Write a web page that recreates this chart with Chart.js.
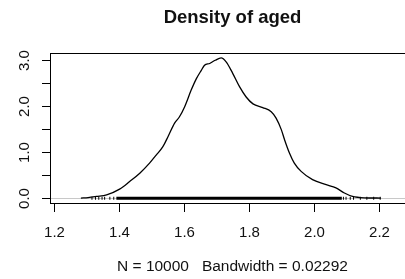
<!DOCTYPE html>
<html>
<head>
<meta charset="utf-8">
<script src="https://cdn.jsdelivr.net/npm/chart.js@4.4.1/dist/chart.umd.min.js"></script>
<style>
  html, body { margin: 0; padding: 0; background: #fff; overflow: hidden; }
  canvas { display: block; }
</style>
</head>
<body>
<canvas id="chart" width="420" height="279"></canvas>
<script>
// Kurve der Dichte
const densityX = [1.283, 1.305, 1.331, 1.362, 1.402, 1.433, 1.464, 1.494, 1.515, 1.535, 1.551,
  1.571, 1.586, 1.602, 1.622, 1.638, 1.653, 1.663, 1.679, 1.696, 1.714, 1.730, 1.750, 1.771,
  1.791, 1.812, 1.842, 1.868, 1.883, 1.899, 1.909, 1.924, 1.939, 1.960, 1.995, 2.037, 2.067,
  2.093, 2.118, 2.154, 2.205];
const densityY = [0.0, 0.01, 0.035, 0.07, 0.195, 0.36, 0.54, 0.76, 0.94, 1.12, 1.34,
  1.63, 1.77, 1.99, 2.35, 2.60, 2.78, 2.89, 2.93, 3.00, 3.05, 2.96, 2.71, 2.42,
  2.20, 2.05, 1.97, 1.88, 1.74, 1.49, 1.27, 0.98, 0.76, 0.58, 0.40, 0.29, 0.22,
  0.11, 0.035, 0.005, 0.0];

// Rug: dichter Bereich + einzelne Striche
const rugBand = [1.392, 2.085];
const rugTicks = [1.317, 1.328, 1.338, 1.348, 1.356, 1.372, 1.384,
  2.090, 2.098, 2.111, 2.121, 2.142, 2.162, 2.183, 2.203];

const xTicks = [1.2, 1.4, 1.6, 1.8, 2.0, 2.2];
const yTicks = [0, 0.5, 1, 1.5, 2, 2.5, 3];
const yLabels = ['0.0', '', '1.0', '', '2.0', '', '3.0'];

const titleText = 'Density of aged';
const subText = 'N = 10000   Bandwidth = 0.02292';

const FONT = "'Liberation Sans', Arial, sans-serif";
const TXT = '#111';

// Achsen, Rahmen und Texte im Stil von R
const rAxes = {
  id: 'rAxes',
  beforeDatasetsDraw(chart) {
    const { ctx, chartArea: { left, right }, scales: { y } } = chart;
    const y0 = Math.round(y.getPixelForValue(0)) + 0.5;
    ctx.save();
    ctx.strokeStyle = '#c8c8c8';
    ctx.lineWidth = 1;
    ctx.beginPath();
    ctx.moveTo(left, y0);
    ctx.lineTo(right, y0);
    ctx.stroke();
    ctx.restore();
  },
  afterDraw(chart) {
    const { ctx, chartArea: { top, bottom, left, right }, scales: { x, y } } = chart;
    ctx.save();
    ctx.strokeStyle = '#000';
    ctx.lineWidth = 1;
    ctx.strokeRect(left + 0.5, top + 0.5, right - left, bottom - top);

    // x-Achse
    ctx.fillStyle = TXT;
    ctx.font = `15px ${FONT}`;
    ctx.textAlign = 'center';
    ctx.textBaseline = 'middle';
    xTicks.forEach((v) => {
      const px = Math.round(x.getPixelForValue(v)) + 0.5;
      ctx.beginPath();
      ctx.moveTo(px, bottom);
      ctx.lineTo(px, bottom + 9);
      ctx.stroke();
      ctx.fillText(v.toFixed(1), px, 233);
    });

    // y-Achse (Beschriftung gedreht)
    yTicks.forEach((v, i) => {
      const py = Math.round(y.getPixelForValue(v)) + 0.5;
      ctx.beginPath();
      ctx.moveTo(left - 8, py);
      ctx.lineTo(left, py);
      ctx.stroke();
      if (yLabels[i]) {
        ctx.save();
        ctx.translate(25, py);
        ctx.rotate(-Math.PI / 2);
        ctx.fillText(yLabels[i], 0, 0);
        ctx.restore();
      }
    });

    ctx.font = `15.5px ${FONT}`;
    ctx.fillText(subText, (left + right) / 2, 267);
    ctx.font = `bold 18.5px ${FONT}`;
    ctx.fillText(titleText, (left + right) / 2, 18);
    ctx.restore();
  },
};

new Chart(document.getElementById('chart'), {
  type: 'line',
  data: {
    datasets: [
      {
        data: densityX.map((v, i) => ({ x: v, y: densityY[i] })),
        borderColor: '#000',
        borderWidth: 1.3,
        pointRadius: 0,
        cubicInterpolationMode: 'monotone',
        fill: false,
      },
      {
        data: rugBand.map((v) => ({ x: v, y: -0.005 })),
        borderColor: '#000',
        borderWidth: 3,
        pointRadius: 0,
      },
      {
        data: rugTicks.map((v) => ({ x: v, y: -0.005 })),
        showLine: false,
        pointStyle: 'line',
        rotation: 90,
        pointRadius: 1.5,
        borderColor: '#000',
        borderWidth: 1,
      },
    ],
  },
  options: {
    responsive: false,
    animation: false,
    layout: {
      padding: { left: 50, right: 4, top: 53, bottom: 76 },
    },
    scales: {
      x: { type: 'linear', min: 1.188, max: 2.31, display: false },
      y: { min: -0.108, max: 3.158, display: false },
    },
    plugins: {
      legend: { display: false },
      tooltip: { enabled: false },
    },
  },
  plugins: [rAxes],
});
</script>
</body>
</html>
